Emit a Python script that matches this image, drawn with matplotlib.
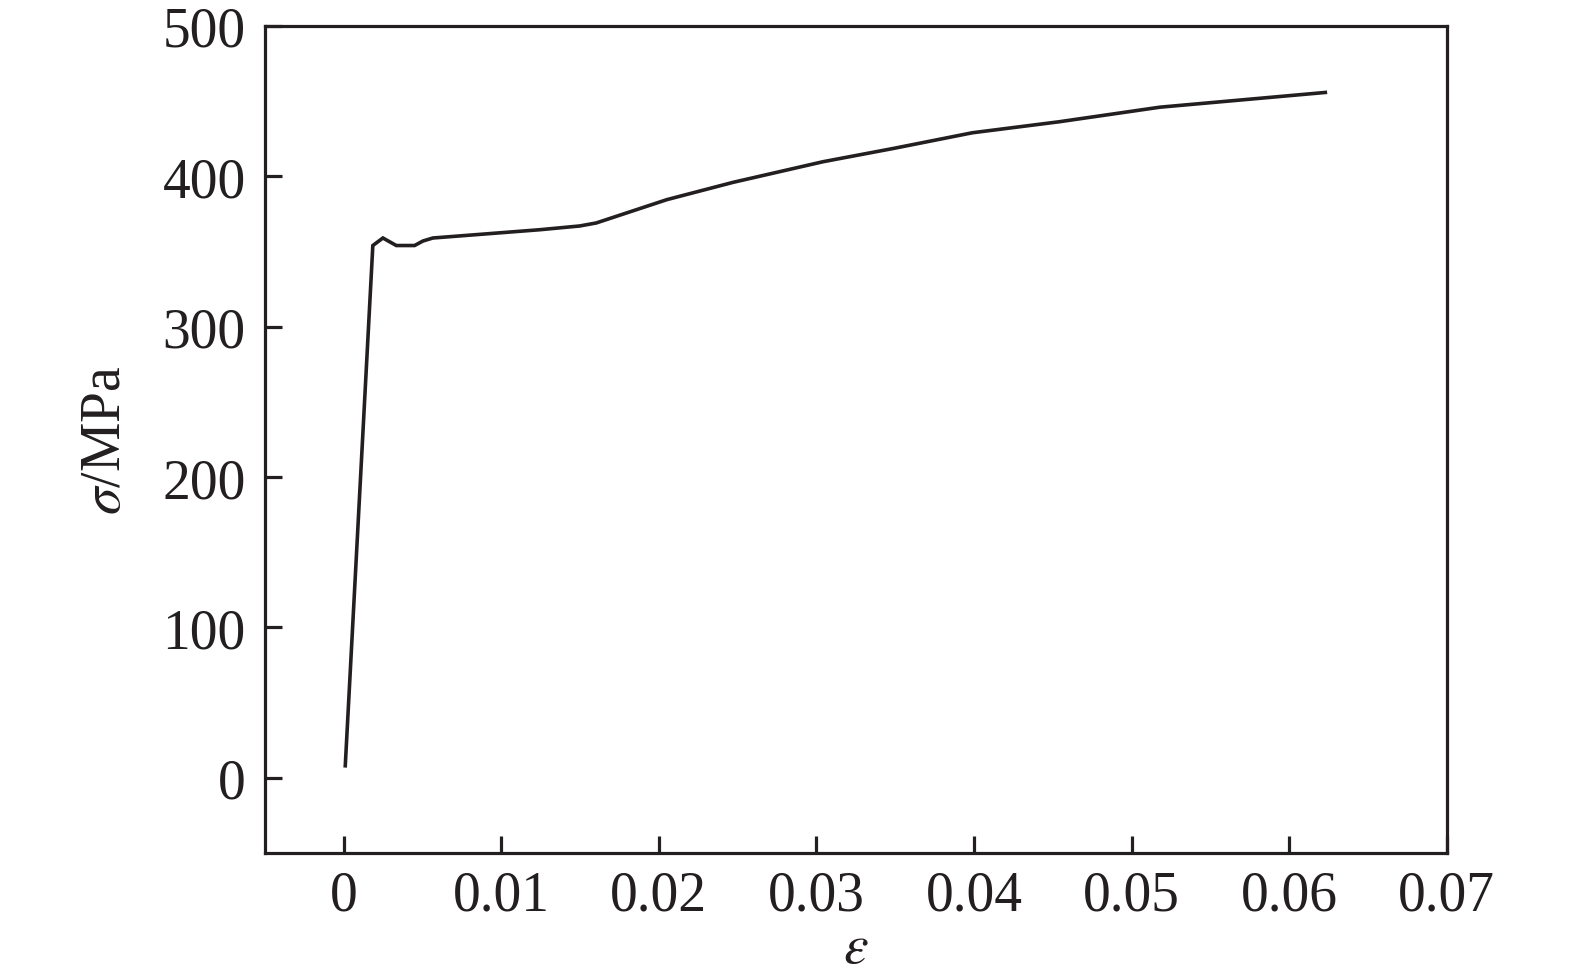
import numpy as np
import matplotlib
matplotlib.use("Agg")
import matplotlib.pyplot as plt

# --- Data ---
strain = [0.00009, 0.00184, 0.00248, 0.00333, 0.00449, 0.00502, 0.00565,
          0.01243, 0.01497, 0.01602, 0.0205, 0.0247, 0.0304, 0.0349,
          0.0399, 0.0454, 0.0518, 0.0623]
stress = [8, 354, 359, 354, 354, 357, 359,
          364.5, 367, 369, 384.5, 396, 409.7, 418.6,
          429, 436.3, 446, 455.8]

xticks = [0, 0.01, 0.02, 0.03, 0.04, 0.05, 0.06, 0.07]
xtick_labels = ["0", "0.01", "0.02", "0.03", "0.04", "0.05", "0.06", "0.07"]
yticks = [0, 100, 200, 300, 400, 500]

plt.rcParams['font.family'] = ['Liberation Serif', 'DejaVu Serif']
plt.rcParams['mathtext.fontset'] = 'stix'

fig = plt.figure(figsize=(15.75, 9.78), dpi=100)
ax = fig.add_axes([0.1683, 0.1268, 0.9185 - 0.1683, 0.9724 - 0.1268])

ax.plot(strain, stress, color='#231f20', lw=2.6, solid_joinstyle='miter')

ax.set_xlim(-0.005, 0.07)
ax.set_ylim(-50, 500)
ax.set_xticks(xticks)
ax.set_xticklabels(xtick_labels)
ax.set_yticks(yticks)

for s in ax.spines.values():
    s.set_linewidth(2.3)
    s.set_color('#231f20')

ax.tick_params(direction='in', length=12, width=2.3, color='#231f20',
               labelsize=40, labelcolor='#231f20', top=False, right=False)
ax.tick_params(axis='x', pad=12)
ax.tick_params(axis='y', pad=14)

ax.set_xlabel(r'$\varepsilon$', fontsize=40, color='#231f20', labelpad=0)
ax.set_ylabel(r'$\sigma$/MPa', fontsize=40, color='#231f20', labelpad=22)

fig.savefig('out.png', dpi=100)
